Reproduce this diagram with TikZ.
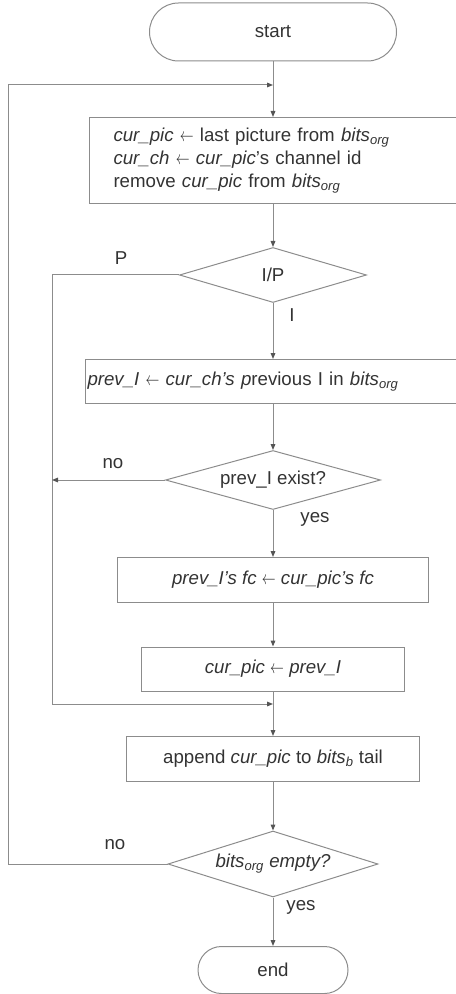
\documentclass[tikz,border=0pt]{standalone}
\usepackage{fontspec}
\usepackage{graphicx}
\setmainfont{Liberation Sans}
\usetikzlibrary{shapes.geometric,shapes.misc,arrows.meta}
\definecolor{linegray}{HTML}{8C8C8C}
\definecolor{tipgray}{HTML}{555555}
\definecolor{txt}{HTML}{333333}
\newcommand{\vr}[1]{\textit{#1}}
\newcommand{\org}{\textsubscript{\itshape org}}
\newcommand{\getsarrow}{\scalebox{0.72}[1]{$\leftarrow$}}
\begin{document}
\begin{tikzpicture}[x=0.75pt,y=-0.75pt,
  font=\fontsize{14pt}{17.2pt}\selectfont, text=txt,
  line/.style={draw=linegray, line width=0.75pt},
  arr/.style={line, -{Triangle[length=4.5pt,width=3.5pt,color=tipgray]}},
  boxnode/.style={line, rectangle, inner sep=0pt},
  pill/.style={line, rounded rectangle, inner sep=0pt},
  decide/.style={line, diamond, inner sep=0pt, aspect=3.5},
  lbl/.style={inner sep=0pt}]
\useasboundingbox (0,0) rectangle (456,994);
\clip (0,0) rectangle (456,994);

\node[pill, minimum width=247*0.75pt, minimum height=58*0.75pt] (start) at (273,32) {start};
\coordinate (loopin) at (273,85);
\coordinate (loopL) at (8,85);

\node[boxnode, anchor=north west, minimum width=381*0.75pt, minimum height=86*0.75pt,
      text width=333*0.75pt, align=left, inner xsep=24*0.75pt] (box1) at (89,117)
 {\vr{cur\_pic} \getsarrow\ last picture from \vr{bits}\org\\
  \vr{cur\_ch} \getsarrow\ \vr{cur\_pic}'s channel id\\
  remove \vr{cur\_pic} from \vr{bits}\org};

\node[decide, minimum width=187*0.75pt, minimum height=55*0.75pt] (d1) at (273,275) {I/P};
\coordinate (pline) at (52,275);
\coordinate (merge) at (273,704);

\node[boxnode, anchor=north west, minimum width=385*0.75pt, minimum height=44*0.75pt,
      text width=381*0.75pt, align=left, inner xsep=2*0.75pt] (box2) at (85,359)
 {\vr{prev\_I} \getsarrow\ \vr{cur\_ch's p}revious I in \vr{bits}\org};

\node[decide, minimum width=215*0.75pt, minimum height=59*0.75pt] (d2) at (273,480) {prev\_I exist?};

\node[boxnode, minimum width=311*0.75pt, minimum height=45*0.75pt] (box3) at (273,580)
 {\vr{prev\_I's fc} \getsarrow\ \vr{cur\_pic's fc}};
\node[boxnode, minimum width=263*0.75pt, minimum height=44*0.75pt] (box4) at (273,669)
 {\vr{cur\_pic} \getsarrow\ \vr{prev\_I}};
\node[boxnode, minimum width=293*0.75pt, minimum height=45*0.75pt] (box5) at (273,759)
 {append \vr{cur\_pic} to \vr{bits}\textsubscript{\itshape b} tail};

\node[decide, minimum width=210*0.75pt, minimum height=66*0.75pt] (d3) at (273,864)
 {\vr{bits}\org\ \vr{empty?}};
\node[pill, minimum width=150*0.75pt, minimum height=47*0.75pt] (end) at (273,970) {end};

% connectors
\draw[arr] (start.south) -- (start.south |- box1.north);
\draw[arr] (d3.west) -| (loopL) -- (loopin);
\draw[arr] (box1.south -| d1.north) -- (d1.north);
\draw[arr] (d1.south) -- (d1.south |- box2.north);
\draw[arr] (d1.west) -- (pline) |- (merge);
\draw[arr] (box2.south -| d2.north) -- (d2.north);
\draw[arr] (d2.west) -- (d2.west -| pline);
\draw[arr] (d2.south) -- (box3.north);
\draw[arr] (box3.south) -- (box4.north);
\draw[arr] (box4.south) -- (box5.north);
\draw[arr] (box5.south) -- (d3.north);
\draw[arr] (d3.south) -- (end.north);

% labels
\node[lbl] (lp) at (121,258) {P};
\node[lbl] (li) at (292,315) {I};
\node[lbl] (lno1) at (113,464) {no};
\node[lbl] (lyes1) at (315,519) {yes};
\node[lbl] (lno2) at (115,845) {no};
\node[lbl] (lyes2) at (301,907) {yes};
\end{tikzpicture}
\end{document}
